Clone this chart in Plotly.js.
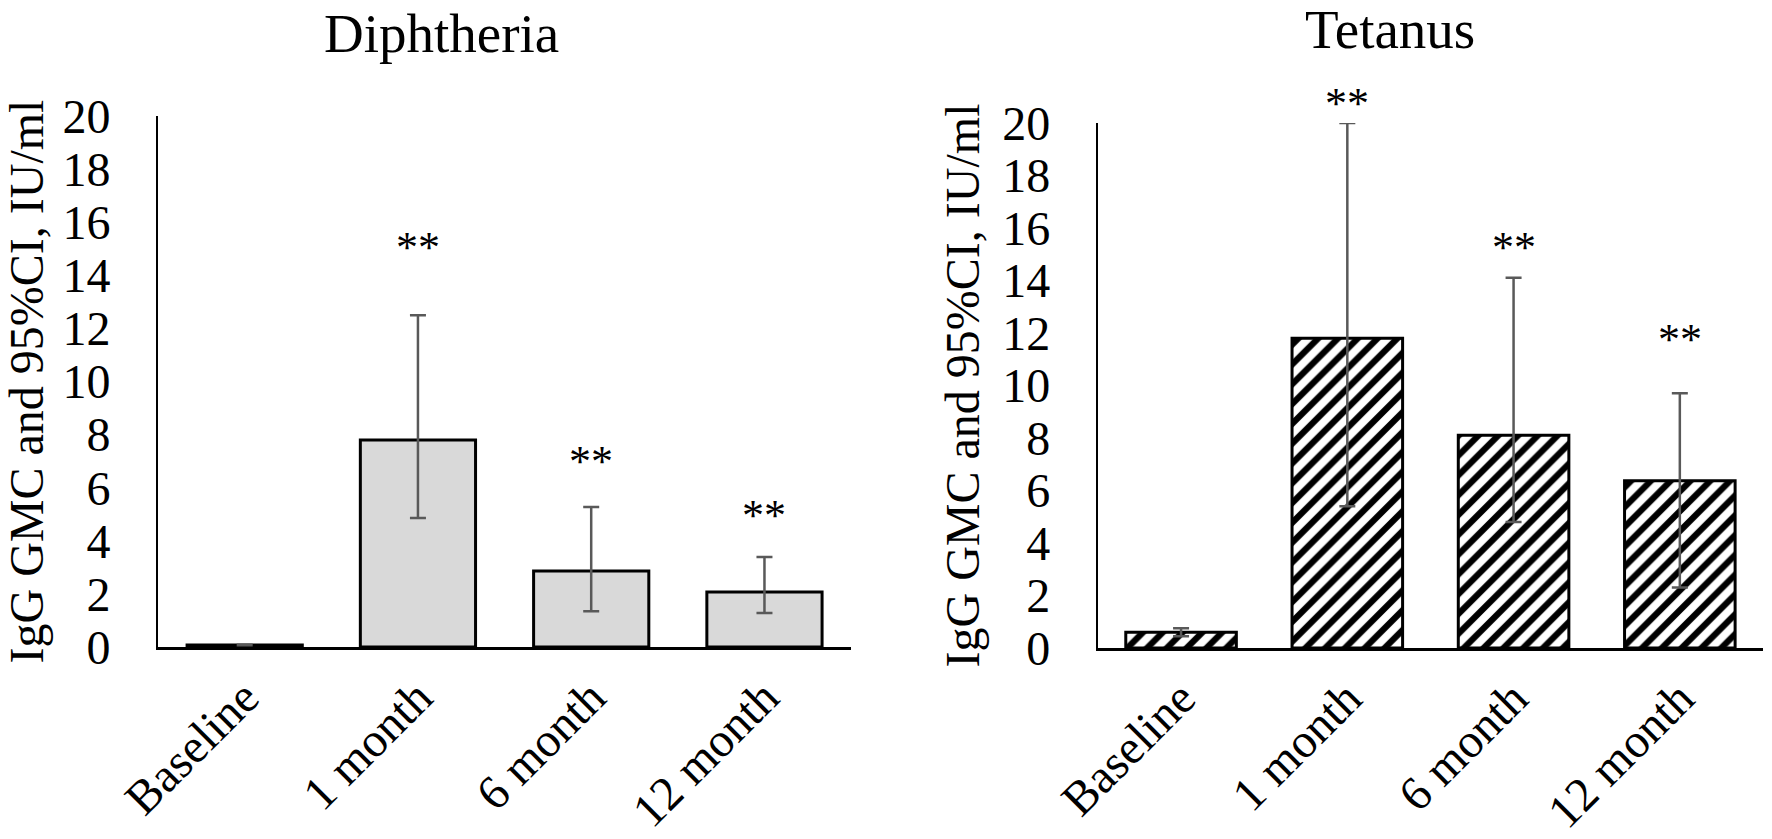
<!DOCTYPE html>
<html>
<head>
<meta charset="utf-8">
<script src="https://cdn.plot.ly/plotly-3.0.1.min.js"></script>
<style>
  html, body { margin:0; padding:0; background:#fff; }
  #chart { width:1772px; height:839px; }
</style>
</head>
<body>
<div id="chart"></div>
<script>
// IgG GMC and 95% CI after vaccination
const categories = ['Baseline', '1 month', '6 month', '12 month'];

const diphGmc  = [0.08, 7.8, 2.86, 2.07];
const diphLow  = [0.07, 4.86, 1.35, 1.28];
const diphHigh = [0.09, 12.5, 5.27, 3.39];

const tetGmc  = [0.6, 11.8, 8.1, 6.37];
const tetLow  = [0.45, 5.4, 4.8, 2.3];
const tetHigh = [0.75, 20.0, 14.1, 9.7];

// significance marks and their heights (IU/ml)
const starText  = ['', '**', '**', '**'];
const diphStarY = [null, 15.05, 6.98, 4.95];
const tetStarY  = [null, 20.75, 15.25, 11.75];

const yTicks = [0, 2, 4, 6, 8, 10, 12, 14, 16, 18, 20];
const yMax = 20;

const FONT = 'Liberation Serif, Times New Roman, serif';
const H = 839;
const domY1 = [0.2288, 0.8617];
const domY2 = [0.2277, 0.8534];

function errs(v, lo, hi, color) {
  return {
    type: 'data', symmetric: false,
    array: hi.map((h, i) => h - v[i]),
    arrayminus: lo.map((l, i) => v[i] - l),
    color: color, thickness: 2.5, width: 8
  };
}

const traces = [
  {
    type: 'bar', x: categories, y: diphGmc, xaxis: 'x', yaxis: 'y',
    marker: { color: '#d9d9d9', line: { color: '#000', width: 3 } },
    error_y: errs(diphGmc, diphLow, diphHigh, '#595959'),
    hoverinfo: 'x+y'
  },
  {
    type: 'bar', x: categories, y: tetGmc, xaxis: 'x2', yaxis: 'y2',
    marker: {
      color: '#fff',
      line: { color: '#000', width: 3 },
      pattern: { shape: '/', fgcolor: '#000', bgcolor: '#fff', size: 14, solidity: 0.45 }
    },
    error_y: errs(tetGmc, tetLow, tetHigh, '#595959'),
    hoverinfo: 'x+y'
  }
];

// annotations above the range are hidden, so clamp and shift in pixels
function stars(xref, yref, ys, dom) {
  const pxPerUnit = (dom[1] - dom[0]) * H / yMax;
  return categories.map((c, i) => {
    const y = ys[i] == null ? 0 : Math.min(ys[i], yMax);
    return {
      xref: xref, yref: yref, x: c, y: y, text: starText[i],
      yshift: ys[i] == null ? 0 : (ys[i] - y) * pxPerUnit,
      showarrow: false, yanchor: 'middle',
      font: { family: FONT, size: 44, color: '#000' }
    };
  }).filter(a => a.text);
}

function xAxis(domain, anchor) {
  return {
    domain: domain, anchor: anchor,
    showline: true, linecolor: '#000', linewidth: 3,
    ticks: '', showgrid: false, zeroline: false,
    tickangle: -45,
    tickfont: { family: FONT, size: 48, color: '#000' }
  };
}

function yAxis(domain, anchor) {
  return {
    domain: domain, anchor: anchor, range: [0, yMax],
    tickvals: yTicks, ticktext: yTicks.map(String),
    showline: true, linecolor: '#000', linewidth: 2,
    ticks: '', showgrid: false, zeroline: false,
    ticklabelstandoff: 36,
    tickfont: { family: FONT, size: 48, color: '#000' },
    title: {
      text: 'IgG GMC and 95%CI, IU/ml', standoff: 8,
      font: { family: FONT, size: 48, color: '#000' }
    }
  };
}

const layout = {
  width: 1772, height: 839,
  margin: { l: 0, r: 0, t: 0, b: 0 },
  paper_bgcolor: '#fff', plot_bgcolor: '#fff',
  showlegend: false,
  bargap: 0.335,
  xaxis: xAxis([0.0892, 0.4803], 'y'),
  yaxis: yAxis(domY1, 'x'),
  xaxis2: xAxis([0.6196, 0.9949], 'y2'),
  yaxis2: yAxis(domY2, 'x2'),
  annotations: [
    { xref: 'paper', yref: 'paper', x: 0.2494, y: 0.9595, text: 'Diphtheria',
      showarrow: false, xanchor: 'center', yanchor: 'middle',
      font: { family: FONT, size: 55, color: '#000' } },
    { xref: 'paper', yref: 'paper', x: 0.7844, y: 0.9654, text: 'Tetanus',
      showarrow: false, xanchor: 'center', yanchor: 'middle',
      font: { family: FONT, size: 55, color: '#000' } }
  ].concat(stars('x', 'y', diphStarY, domY1), stars('x2', 'y2', tetStarY, domY2))
};

Plotly.newPlot('chart', traces, layout, { displayModeBar: false, responsive: false });
</script>
</body>
</html>
